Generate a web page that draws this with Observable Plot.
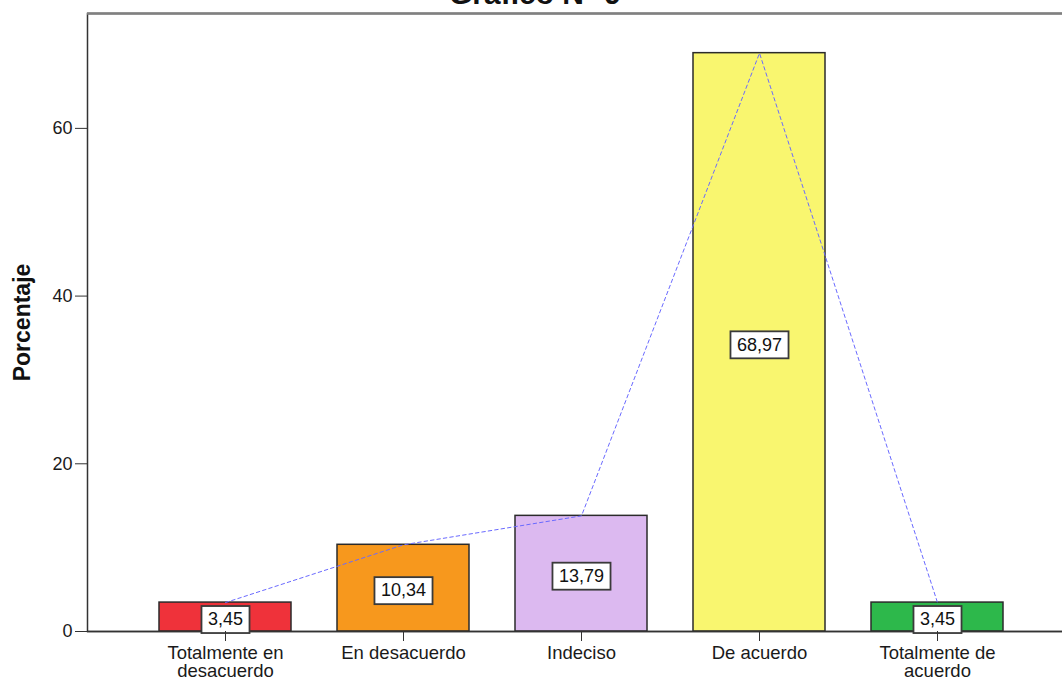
<!DOCTYPE html>
<html><head><meta charset="utf-8">
<script src="https://cdn.jsdelivr.net/npm/d3@7"></script>
<script src="https://cdn.jsdelivr.net/npm/@observablehq/plot@0.6"></script>
<style>
body{margin:0;background:#fff;overflow:hidden;font-family:"Liberation Sans",Arial,sans-serif}
#wrap{position:relative;width:1062px;height:678px;overflow:hidden;background:#fff}
#title{position:absolute;left:4px;width:1062px;text-align:center;top:-21px;font-weight:bold;font-size:30px;line-height:1;color:#111;z-index:2}
#chart{position:absolute;left:0;top:0}
</style></head>
<body>
<div id="wrap"><div id="title">Gráfico N° 9</div><div id="chart"></div></div>
<script>
const categories = ["Totalmente en desacuerdo", "En desacuerdo", "Indeciso", "De acuerdo", "Totalmente de acuerdo"];
const tickLabels = ["Totalmente en\ndesacuerdo", "En desacuerdo", "Indeciso", "De acuerdo", "Totalmente de\nacuerdo"];
const values = [3.45, 10.34, 13.79, 68.97, 3.45];
const valueLabels = ["3,45", "10,34", "13,79", "68,97", "3,45"];
const colors = ["#ef323a", "#f7981d", "#dcb9f0", "#f9f66f", "#2db84b"];
const yTicks = [0, 20, 40, 60];
const yMax = 73.7;

const data = categories.map((c, i) => ({cat: c, value: values[i], label: valueLabels[i], color: colors[i]}));

function num(v) { const n = parseFloat(v); return (v != null && /^-?[\d.]+$/.test(String(v).trim()) && isFinite(n)) ? n : 0; }

function boxed(index, scales, vals, dims, ctx, next) {
  const g = next(index, scales, vals, dims, ctx);
  const cv = document.createElement("canvas").getContext("2d");
  cv.font = "18px 'Liberation Sans', Arial";
  g.querySelectorAll("text").forEach(t => {
    const w = cv.measureText(t.textContent).width + 13;
    const h = 27;
    const r = document.createElementNS("http://www.w3.org/2000/svg", "rect");
    const tr = t.getAttribute("transform");
    if (tr) r.setAttribute("transform", tr);
    const x = num(t.getAttribute("x")), y = num(t.getAttribute("y"));
    r.setAttribute("x", x - w / 2);
    r.setAttribute("y", y - h / 2);
    r.setAttribute("width", w);
    r.setAttribute("height", h);
    r.setAttribute("fill", "#fff");
    r.setAttribute("stroke", "#3a3a3a");
    r.setAttribute("stroke-width", "1.8");
    t.parentNode.insertBefore(r, t);
  });
  return g;
}

const plot = Plot.plot({
  width: 1062, height: 678,
  marginLeft: 87, marginTop: 13, marginBottom: 47, marginRight: -6,
  style: {fontFamily: "'Liberation Sans', Arial, sans-serif", fontSize: "18px", color: "#1a1a1a", background: "#fff"},
  x: {domain: categories, range: [87, 1075], paddingInner: 0.258, paddingOuter: 0.404, label: null},
  y: {domain: [0, yMax], label: null},
  color: {type: "identity"},
  marks: [
    Plot.frame({stroke: "#333", strokeWidth: 1.5}),
    Plot.barY(data, {x: "cat", y: "value", fill: "color", stroke: "#2b2b2b", strokeWidth: 1.5}),
    Plot.ruleY([0], {stroke: "#333", strokeWidth: 1.5}),
    Plot.ruleY([yMax], {stroke: "#808080", strokeWidth: 2.5}),
    Plot.lineY(data, {x: "cat", y: "value", stroke: "#6a6aff", strokeWidth: 1, strokeDasharray: "3.5,3"}),
    Plot.text(data, {x: "cat", y: d => d.value / 2, dy: 2.5, text: "label", fontSize: 18, fill: "#111", render: boxed}),
    Plot.axisY({ticks: yTicks, tickSize: 12, tickPadding: 3, fontSize: 18, label: null, stroke: "#333"}),
    Plot.axisX({tickSize: 10, tickPadding: 4, fontSize: 18.5, lineHeight: 1, label: null, stroke: "#333",
      tickFormat: d => tickLabels[categories.indexOf(d)]}),
    Plot.text(["Porcentaje"], {frameAnchor: "left", textAnchor: "middle", lineAnchor: "middle", rotate: -90, dx: -65, fontWeight: "bold", fontSize: 23, fill: "#111"})
  ]
});
document.getElementById("chart").appendChild(plot);
</script>
</body></html>
